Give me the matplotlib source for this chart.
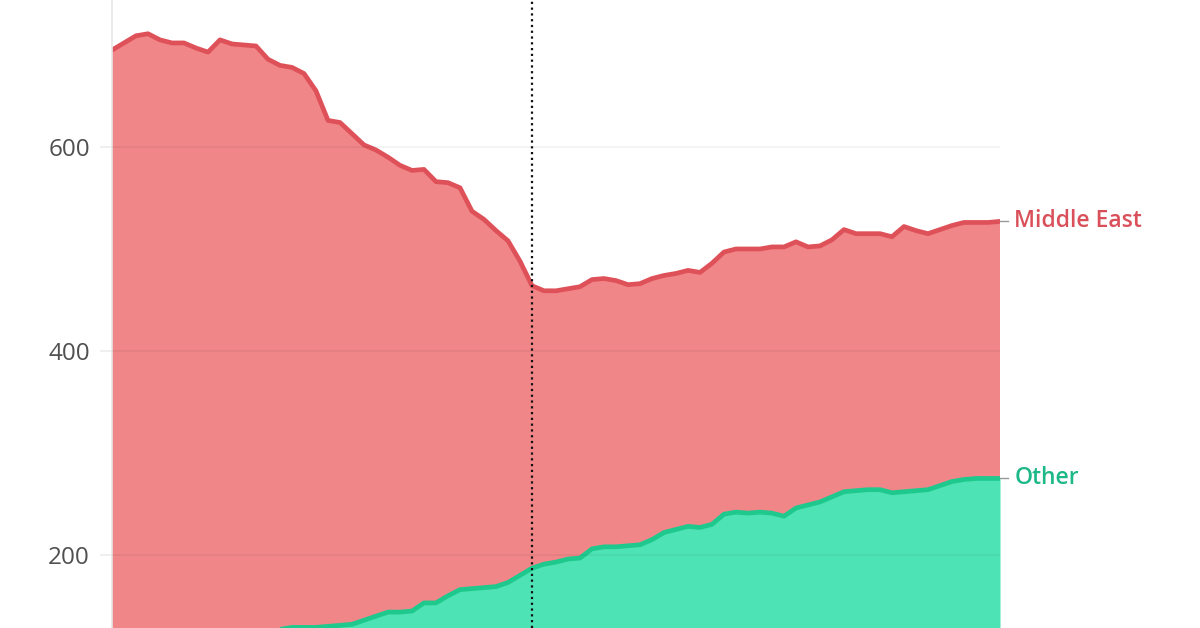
import matplotlib
matplotlib.use('Agg')
import numpy as np
import matplotlib.pyplot as plt

plt.rcParams.update({'font.family': ['Open Sans', 'DejaVu Sans']})

RED_LINE = '#DF5159'
RED_FILL = '#F08688'
GRN_LINE = '#1FC98E'
GRN_FILL = '#4EE3B4'
GRID = '#000000'
TXT = '#505050'

# monthly series (index only, no dates shown on the chart)
middle_east = [695, 702, 709, 711, 705, 702, 702, 697, 693, 705,
               701, 700, 699, 686, 680, 678, 672, 655, 626, 624,
               613, 602, 597, 590, 582, 577, 578, 566, 565, 560,
               537, 529, 518, 508, 488, 464, 459, 459, 461, 463,
               470, 471, 469, 465, 466, 471, 474, 476, 479, 477,
               486, 497, 500, 500, 500, 502, 502, 507, 502, 503,
               509, 519, 515, 515, 515, 512, 522, 518, 515, 519,
               523, 526, 526, 526, 527]
other = [112, 113, 114, 115, 115, 116, 117, 118, 119, 120,
         121, 123, 124, 126, 127, 129, 129, 129, 130, 131,
         132, 136, 140, 144, 144, 145, 153, 153, 160, 166,
         167, 168, 169, 173, 180, 187, 191, 193, 196, 197,
         206, 208, 208, 209, 210, 215, 222, 225, 228, 227,
         230, 240, 242, 241, 242, 241, 238, 246, 249, 252,
         257, 262, 263, 264, 264, 261, 262, 263, 264, 268,
         272, 274, 275, 275, 275]
marker_idx = 35
yticks = [200, 400, 600]

x = np.arange(len(middle_east))

fig = plt.figure(figsize=(12, 6.28), dpi=100)
ax = fig.add_axes([112 / 1200, 0, 888 / 1200, 1])

ax.fill_between(x, 0, middle_east, color=RED_FILL, lw=0, zorder=1)
ax.plot(x, middle_east, color=RED_LINE, lw=3.4, zorder=2, solid_joinstyle='round')
ax.fill_between(x, 0, other, color=GRN_FILL, lw=0, zorder=3)
ax.plot(x, other, color=GRN_LINE, lw=3.4, zorder=4, solid_joinstyle='round')

for t in yticks:
    ax.axhline(t, color=GRID, alpha=0.045, lw=1.5, zorder=5)
ax.axvline(marker_idx, color='#111111', lw=1.6, ls=(0, (1, 1.6)), zorder=6)

ax.set_xlim(0, len(middle_east) - 1)
ax.set_ylim(128.4, 744.1)
ax.set_xticks([])
ax.set_yticks(yticks)
ax.tick_params(axis='y', length=9, width=1.2, color='#ececec', pad=7,
               labelsize=17.5, labelcolor=TXT)
for s in ['top', 'right', 'bottom']:
    ax.spines[s].set_visible(False)
ax.spines['left'].set_color('#e6e6e6')
ax.spines['left'].set_linewidth(1.2)

# end labels
n = len(middle_east) - 1
for val, name, col in [(middle_east[-1], 'Middle East', '#D9505A'),
                       (other[-1], 'Other', '#1DB887')]:
    ax.plot([n, n + 0.7], [val, val], color='#999999', lw=1, clip_on=False)
    ax.text(n + 1.2, val, name, color=col, fontsize=16.5, fontweight='semibold',
            ha='left', va='center', clip_on=False)

fig.savefig('out.png', dpi=100)
